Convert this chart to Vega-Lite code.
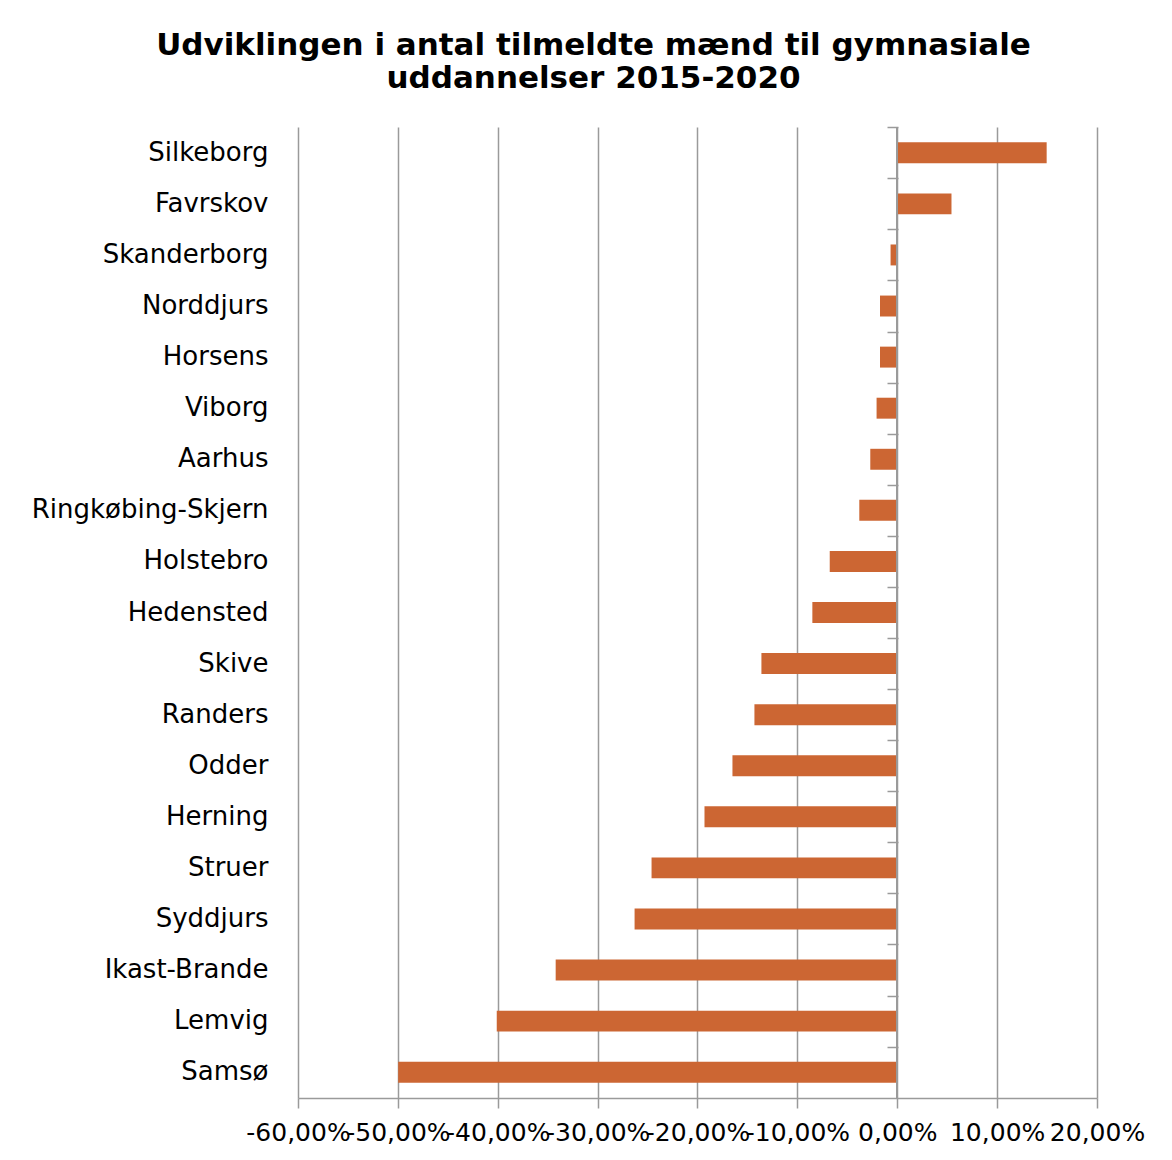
{
  "$schema": "https://vega.github.io/schema/vega-lite/v6.json",
  "autosize": "none",
  "width": 799,
  "height": 971,
  "padding": {"left": 298, "top": 127, "right": 75, "bottom": 62},
  "background": "white",
  "config": {
    "locale": {"number": {"decimal": ",", "thousands": ".", "grouping": [3], "currency": ["", " kr"], "minus": "-"}},
    "view": {"stroke": null},
    "font": "DejaVu Sans"
  },
  "title": {
    "text": ["Udviklingen i antal tilmeldte mænd til gymnasiale", "uddannelser 2015-2020"],
    "font": "DejaVu Sans",
    "fontSize": 31,
    "fontWeight": "bold",
    "color": "black",
    "anchor": "middle",
    "frame": "group",
    "dx": -104,
    "offset": 31,
    "lineHeight": 33
  },
  "data": {
    "values": [
      {"kommune": "Silkeborg", "value": 0.1496},
      {"kommune": "Favrskov", "value": 0.0543},
      {"kommune": "Skanderborg", "value": -0.0067},
      {"kommune": "Norddjurs", "value": -0.0173},
      {"kommune": "Horsens", "value": -0.0173},
      {"kommune": "Viborg", "value": -0.0207},
      {"kommune": "Aarhus", "value": -0.027},
      {"kommune": "Ringkøbing-Skjern", "value": -0.038},
      {"kommune": "Holstebro", "value": -0.0676},
      {"kommune": "Hedensted", "value": -0.085},
      {"kommune": "Skive", "value": -0.136},
      {"kommune": "Randers", "value": -0.143},
      {"kommune": "Odder", "value": -0.165},
      {"kommune": "Herning", "value": -0.193},
      {"kommune": "Struer", "value": -0.246},
      {"kommune": "Syddjurs", "value": -0.263},
      {"kommune": "Ikast-Brande", "value": -0.342},
      {"kommune": "Lemvig", "value": -0.401},
      {"kommune": "Samsø", "value": -0.4997}
    ]
  },
  "layer": [
    {
      "mark": {"type": "bar", "color": "#CC6633"},
      "encoding": {
        "y": {
          "field": "kommune",
          "type": "nominal",
          "sort": null,
          "scale": {"paddingInner": 0.59, "paddingOuter": 0.3},
          "axis": {
            "title": null,
            "domain": false,
            "ticks": false,
            "grid": false,
            "labelFont": "DejaVu Sans",
            "labelFontSize": 26,
            "labelColor": "black",
            "labelPadding": 30,
            "labelLimit": 400
          }
        },
        "x": {
          "field": "value",
          "type": "quantitative",
          "scale": {"domain": [-0.6, 0.2], "nice": false, "zero": false},
          "axis": {
            "title": null,
            "format": ".2%",
            "values": [-0.6, -0.5, -0.4, -0.3, -0.2, -0.1, 0, 0.1, 0.2],
            "grid": true,
            "gridColor": "#9a9a9a",
            "gridWidth": 1.5,
            "domainColor": "#9a9a9a",
            "domainWidth": 1.5,
            "tickColor": "#9a9a9a",
            "tickWidth": 1.5,
            "tickSize": 10,
            "labelFont": "DejaVu Sans",
            "labelFontSize": 25,
            "labelColor": "black",
            "labelPadding": 12,
            "labelOverlap": false,
            "labelBound": false,
            "labelFlush": false
          }
        }
      }
    },
    {
      "mark": {"type": "rule", "color": "#9a9a9a", "strokeWidth": 1.5},
      "encoding": {
        "x": {"datum": 0, "type": "quantitative"}
      }
    },
    {
      "mark": {"type": "bar", "opacity": 0},
      "encoding": {
        "y": {
          "field": "kommune",
          "type": "nominal",
          "sort": null,
          "axis": {
            "orient": "left",
            "offset": -600,
            "title": null,
            "labels": false,
            "domain": false,
            "grid": false,
            "ticks": true,
            "tickOffset": -25.55,
            "tickSize": 11,
            "tickColor": "#9a9a9a",
            "tickWidth": 1.5
          }
        },
        "x": {"field": "value", "type": "quantitative"}
      }
    }
  ],
  "resolve": {"axis": {"y": "independent"}}
}
